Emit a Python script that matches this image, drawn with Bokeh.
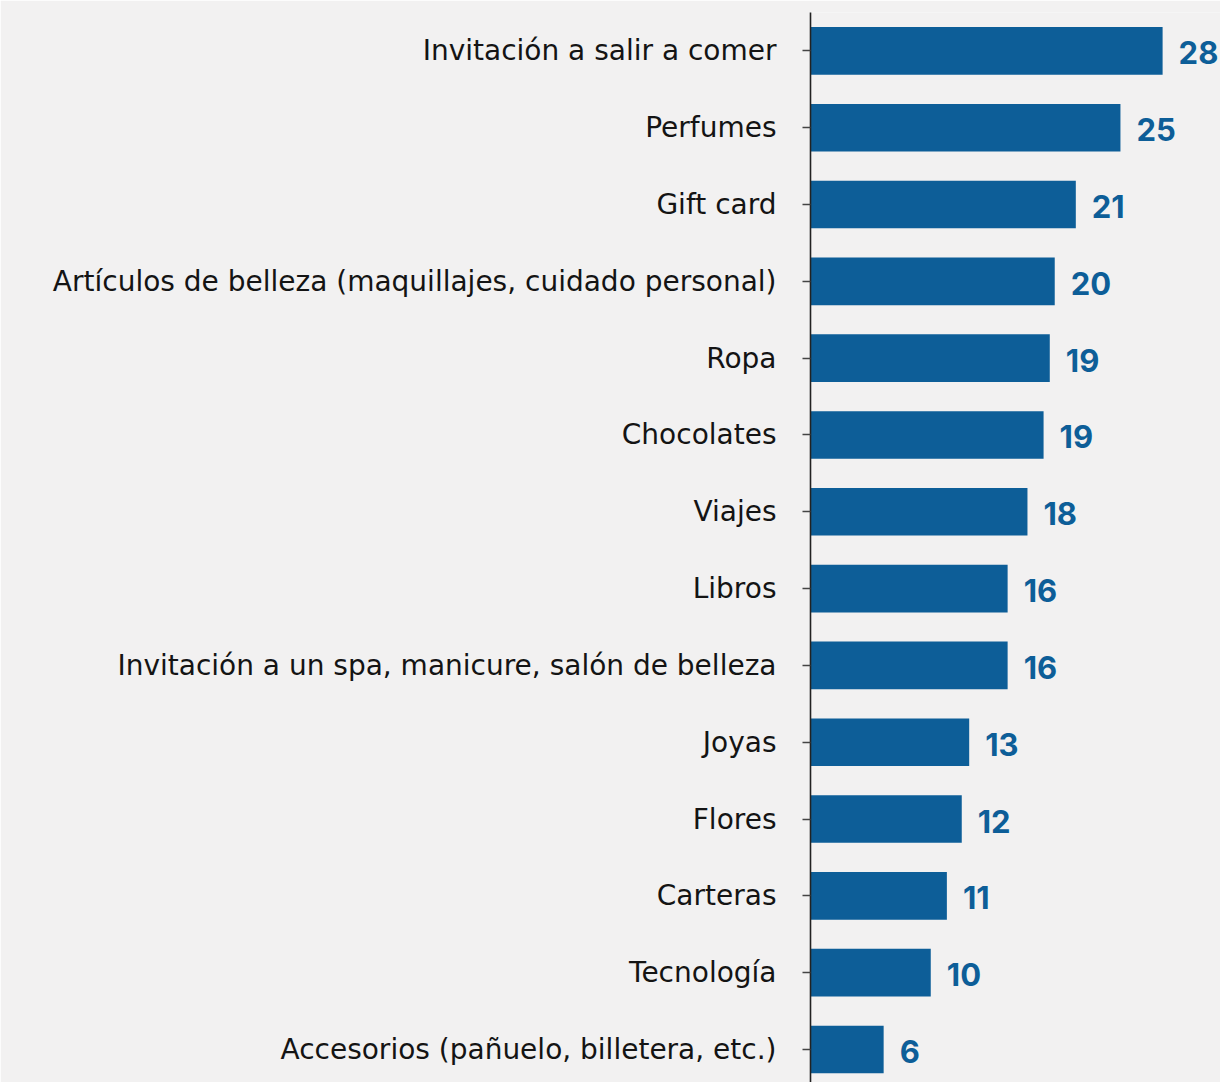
from bokeh.plotting import figure
from bokeh.models import ColumnDataSource, Range1d, FixedTicker
from bokeh.core.properties import value
from bokeh.embed import file_html
from bokeh.resources import INLINE

categories = [
    "Invitación a salir a comer",
    "Perfumes",
    "Gift card",
    "Artículos de belleza (maquillajes, cuidado personal)",
    "Ropa",
    "Chocolates",
    "Viajes",
    "Libros",
    "Invitación a un spa, manicure, salón de belleza",
    "Joyas",
    "Flores",
    "Carteras",
    "Tecnología",
    "Accesorios (pañuelo, billetera, etc.)",
]
values = [28.4, 25.0, 21.4, 19.7, 19.3, 18.8, 17.5, 15.9, 15.9, 12.8, 12.2, 11.0, 9.7, 5.9]
labels = [f"{v:.0f}" for v in values]

BLUE = "#0d5e98"
BG = "#f2f1f1"

pos = list(range(len(categories)))
src = ColumnDataSource(dict(y=pos, v=values, lab=labels))

p = figure(width=1220, height=1082, output_backend="svg", toolbar_location=None,
           x_range=Range1d(0, 33.07), y_range=Range1d(13.43, -0.5),
           x_axis_location=None, min_border_left=810, min_border_right=0,
           min_border_top=12, min_border_bottom=0)
p.background_fill_color = BG
p.border_fill_color = BG
p.outline_line_color = None
p.xgrid.visible = False
p.ygrid.visible = False

p.hbar(y="y", right="v", left=0, height=0.62, source=src, fill_color=BLUE, line_color=None)
p.text(x="v", y="y", text="lab", source=src, x_offset=16, y_offset=2,
       text_align="left", text_baseline="middle", text_color=BLUE,
       text_font=value("Inter"), text_font_style="bold", text_font_size="31px")

ax = p.yaxis[0]
ax.ticker = FixedTicker(ticks=pos)
ax.major_label_overrides = {i: c for i, c in zip(pos, categories)}
ax.minor_tick_line_color = None
ax.axis_line_color = "#222222"
ax.axis_line_width = 1.6
ax.major_tick_line_color = "#444444"
ax.major_tick_line_width = 1.4
ax.major_tick_in = 0
ax.major_tick_out = 8
ax.major_label_standoff = 26
ax.major_label_text_font = "DejaVu Sans"
ax.major_label_text_font_size = "28px"
ax.major_label_text_color = "#141414"

open("out.html", "w").write(file_html(p, INLINE))
